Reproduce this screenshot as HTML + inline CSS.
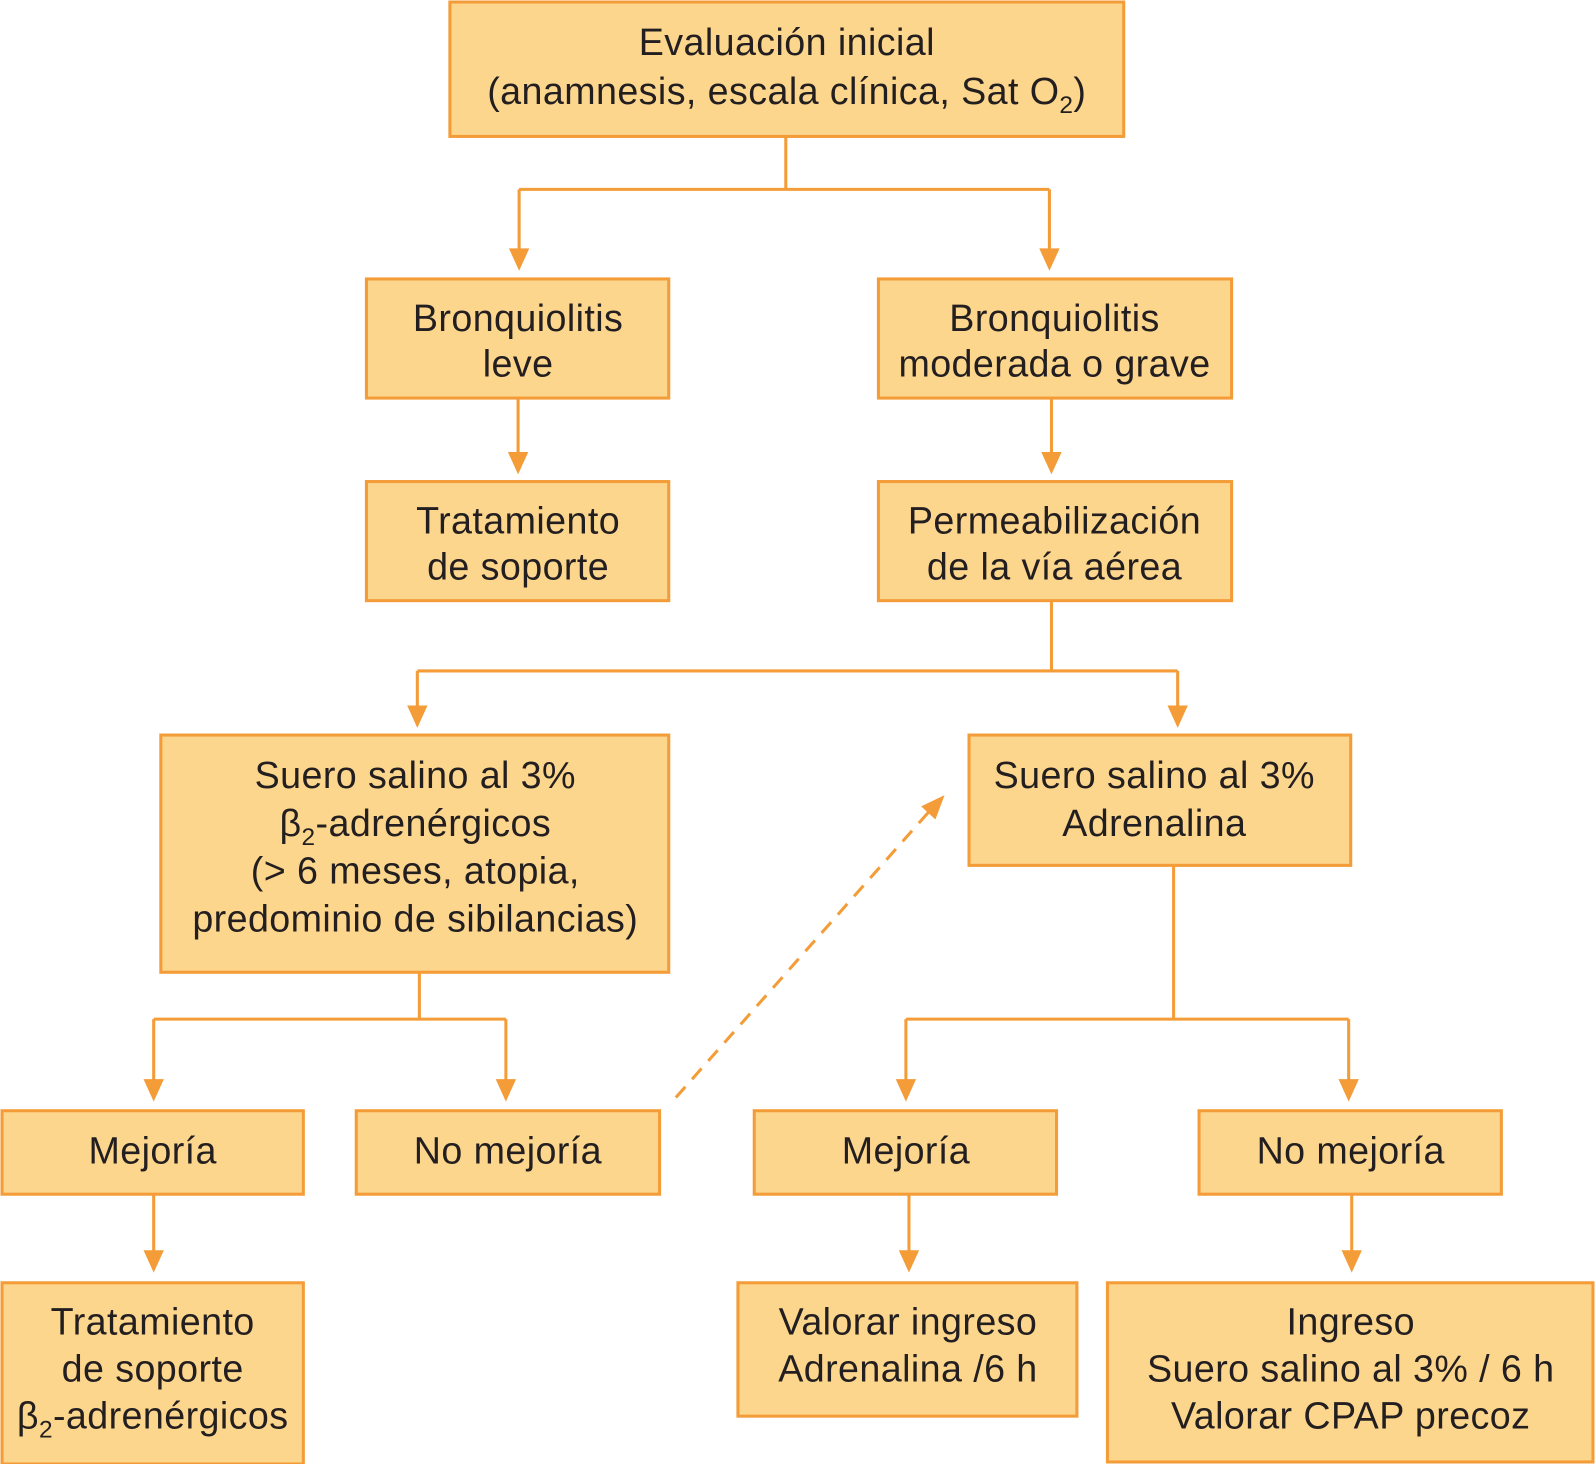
<!DOCTYPE html>
<html><head><meta charset="utf-8"><style>
html,body{margin:0;padding:0;background:#fff;}
svg{display:block;}
text{font-family:"Liberation Sans",sans-serif;font-size:37px;fill:#231f20;text-anchor:middle;letter-spacing:0.4px;}
rect{fill:#FDD68D;stroke:#F39C38;stroke-width:3;}
.l{stroke:#F39C38;stroke-width:3;fill:none;}
.a{fill:#F39C38;}
</style></head><body>
<svg width="1595" height="1464" viewBox="0 0 1567 1438" preserveAspectRatio="none">
<g class="l">
<path d="M772 134V186M510 186H1031M510 186V248M1031 186V248"/>
<path d="M509 391V448M1033 391V448"/>
<path d="M1033 590V659M410 659H1157M410 659V697M1157 659V697"/>
<path d="M412 955V1001M151 1001H497M151 1001V1064M497 1001V1064"/>
<path d="M1153 850V1001M890 1001H1325M890 1001V1064M1325 1001V1064"/>
<path d="M151 1173V1232M893 1173V1232M1328 1173V1232"/>
<path d="M664 1078L912 798" stroke-dasharray="14,10"/>
</g>
<g class="a">
<polygon points="500,244 520,244 510,266"/>
<polygon points="1021,244 1041,244 1031,266"/>
<polygon points="499,444 519,444 509,466"/>
<polygon points="1023,444 1043,444 1033,466"/>
<polygon points="400,693 420,693 410,715"/>
<polygon points="1147,693 1167,693 1157,715"/>
<polygon points="141,1060 161,1060 151,1082"/>
<polygon points="487,1060 507,1060 497,1082"/>
<polygon points="880,1060 900,1060 890,1082"/>
<polygon points="1315,1060 1335,1060 1325,1082"/>
<polygon points="141,1228 161,1228 151,1250"/>
<polygon points="883,1228 903,1228 893,1250"/>
<polygon points="1318,1228 1338,1228 1328,1250"/>
<polygon points="928,781 905,792 919,805"/>
</g>
<rect x="442" y="2" width="662" height="132"/>
<rect x="360" y="274" width="297" height="117"/>
<rect x="863" y="274" width="347" height="117"/>
<rect x="360" y="473" width="297" height="117"/>
<rect x="863" y="473" width="347" height="117"/>
<rect x="158" y="722" width="499" height="233"/>
<rect x="952" y="722" width="375" height="128"/>
<rect x="2" y="1091" width="296" height="82"/>
<rect x="350" y="1091" width="298" height="82"/>
<rect x="741" y="1091" width="297" height="82"/>
<rect x="1178" y="1091" width="297" height="82"/>
<rect x="2" y="1260" width="296" height="178"/>
<rect x="725" y="1260" width="333" height="131"/>
<rect x="1088" y="1260" width="477" height="176"/>
<text x="773" y="54">Evaluación inicial</text>
<text x="773" y="102">(anamnesis, escala clínica, Sat O<tspan font-size="24" dy="9">2</tspan><tspan dy="-9">)</tspan></text>
<text x="509" y="325">Bronquiolitis</text><text x="509" y="370">leve</text>
<text x="1036" y="325">Bronquiolitis</text><text x="1036" y="370">moderada o grave</text>
<text x="509" y="524">Tratamiento</text><text x="509" y="569">de soporte</text>
<text x="1036" y="524">Permeabilización</text><text x="1036" y="569">de la vía aérea</text>
<text x="408" y="774">Suero salino al 3%</text>
<text x="408" y="821">β<tspan font-size="24" dy="9">2</tspan><tspan dy="-9">-adrenérgicos</tspan></text>
<text x="408" y="868">(&gt; 6 meses, atopia,</text>
<text x="408" y="915">predominio de sibilancias)</text>
<text x="1134" y="774">Suero salino al 3%</text><text x="1134" y="821">Adrenalina</text>
<text x="150" y="1143">Mejoría</text>
<text x="499" y="1143">No mejoría</text>
<text x="890" y="1143">Mejoría</text>
<text x="1327" y="1143">No mejoría</text>
<text x="150" y="1311">Tratamiento</text><text x="150" y="1357">de soporte</text>
<text x="150" y="1403">β<tspan font-size="24" dy="9">2</tspan><tspan dy="-9">-adrenérgicos</tspan></text>
<text x="892" y="1311">Valorar ingreso</text><text x="892" y="1357">Adrenalina /6 h</text>
<text x="1327" y="1311">Ingreso</text><text x="1327" y="1357">Suero salino al 3% / 6 h</text><text x="1327" y="1403">Valorar CPAP precoz</text>
</svg>
</body></html>
